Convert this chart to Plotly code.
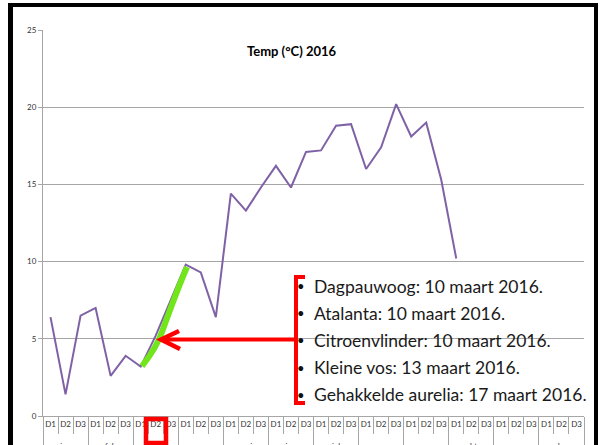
import plotly.graph_objects as go

months = ["jan", "feb", "mrt", "apr", "mei", "jun", "jul", "aug", "sep", "okt", "nov", "dec"]
decades = ["D1", "D2", "D3"]
temps = [6.4, 1.4, 6.5, 7.0, 2.6, 3.9, 3.2, 5.2, 7.5, 9.8, 9.3, 6.4,
         14.4, 13.3, 14.8, 16.2, 14.8, 17.1, 17.2, 18.8, 18.9, 16.0, 17.4, 20.2,
         18.1, 19.0, 15.3, 10.2, None, None, None, None, None, None, None, None]
title_text = "Temp (°C) 2016"
notes = ["Dagpauwoog: 10 maart 2016.",
         "Atalanta: 10 maart 2016.",
         "Citroenvlinder: 10 maart 2016.",
         "Kleine vos: 13 maart 2016.",
         "Gehakkelde aurelia: 17 maart 2016."]

# month labels sit one line lower (cut off at the bottom edge, as in the reference)
month_level = ["<br>" + m for m in months for _ in decades]
decade_level = [d for _ in months for d in decades]

W, H = 605, 445
L, R, T, B = 43, 21, 30, 29
PW, PH = W - L - R, H - T - B


def X(px):
    return (px - L) / PW


def Y(py):
    return (H - B - py) / PH


def path(pts, close=False):
    s = "M " + " L ".join(f"{X(a):.5f},{Y(b):.5f}" for a, b in pts)
    return s + (" Z" if close else "")


def cpath(cmds):
    out = []
    for c in cmds:
        op = c[0]
        coords = c[1:]
        out.append(op + " " + " ".join(f"{X(coords[i]):.5f},{Y(coords[i+1]):.5f}" for i in range(0, len(coords), 2)))
    return " ".join(out)


fig = go.Figure()
fig.add_trace(go.Scatter(
    x=[month_level, decade_level], y=temps, mode="lines",
    line=dict(color="#7F62A6", width=2), connectgaps=False, showlegend=False,
    hoverinfo="skip"))

red = "#FF0000"
shapes = []
# slide border
shapes.append(dict(type="rect", xref="paper", yref="paper", x0=X(8), x1=X(598), y0=Y(3), y1=Y(7),
                   fillcolor="black", line_width=0, layer="above"))
shapes.append(dict(type="rect", xref="paper", yref="paper", x0=X(8), x1=X(13), y0=Y(3), y1=Y(445),
                   fillcolor="black", line_width=0, layer="above"))
shapes.append(dict(type="rect", xref="paper", yref="paper", x0=X(594), x1=X(598), y0=Y(3), y1=Y(445),
                   fillcolor="black", line_width=0, layer="above"))
# green highlight
shapes.append(dict(type="path", xref="paper", yref="paper",
                   path=cpath([("M", 142, 366), ("C", 150, 356, 157, 346, 162, 332), ("S", 178, 288, 187, 267)]),
                   line=dict(color="#72E61A", width=6), layer="above"))
# arrow
shapes.append(dict(type="path", xref="paper", yref="paper", path=path([(295, 339.5), (163, 339.5)]),
                   line=dict(color=red, width=4), layer="above"))
shapes.append(dict(type="path", xref="paper", yref="paper", path=path([(179, 331), (161, 339.5), (180, 349)]),
                   line=dict(color=red, width=4.5), layer="above"))
# bracket
shapes.append(dict(type="path", xref="paper", yref="paper",
                   path=path([(305, 277), (296, 277), (296, 403), (305, 403)]),
                   line=dict(color=red, width=4), layer="above"))
# box around D2
shapes.append(dict(type="rect", xref="paper", yref="paper", x0=X(146), x1=X(166), y0=Y(419), y1=Y(443),
                   line=dict(color=red, width=4.5), fillcolor="rgba(0,0,0,0)", layer="above"))

annotations = [dict(text=f"<b>{title_text}</b>", xref="paper", yref="paper", x=X(292), y=Y(51),
                    xanchor="center", yanchor="middle", showarrow=False,
                    font=dict(family="Lato", size=13, color="#000000"))]
for k, n in enumerate(notes):
    yy = 286 + 27.2 * k
    annotations.append(dict(text="•", xref="paper", yref="paper", x=X(301), y=Y(yy), xanchor="center",
                            yanchor="middle", showarrow=False, font=dict(family="Lato", size=13, color="#111")))
    annotations.append(dict(text=n, xref="paper", yref="paper", x=X(312), y=Y(yy), xanchor="left",
                            yanchor="middle", showarrow=False, font=dict(family="Lato", size=17.5, color="#1a1a1a")))

fig.update_layout(
    width=W, height=H, margin=dict(l=L, r=R, t=T, b=B),
    paper_bgcolor="white", plot_bgcolor="white",
    shapes=shapes, annotations=annotations,
    xaxis=dict(type="multicategory", range=[-0.5, 35.5], tickson="boundaries", ticks="outside", ticklen=17,
               tickangle=0, tickcolor="#A6A6A6", showline=True, linecolor="#A6A6A6", linewidth=1, showgrid=False,
               showdividers=True, dividercolor="#A6A6A6", dividerwidth=1, automargin=False,
               tickfont=dict(family="Lato", size=8, color="#333333")),
    yaxis=dict(range=[0, 25], dtick=5, showgrid=True, gridcolor="#A6A6A6", gridwidth=1.2, showline=True,
               linecolor="#A6A6A6", ticks="outside", ticklen=4, tickcolor="#A6A6A6", zeroline=False,
               automargin=False, tickfont=dict(family="Lato", size=8, color="#333333")),
)

fig.write_html("out.html", config={"displayModeBar": False},
               post_script="document.body.style.margin='0';document.body.style.overflow='hidden';")
